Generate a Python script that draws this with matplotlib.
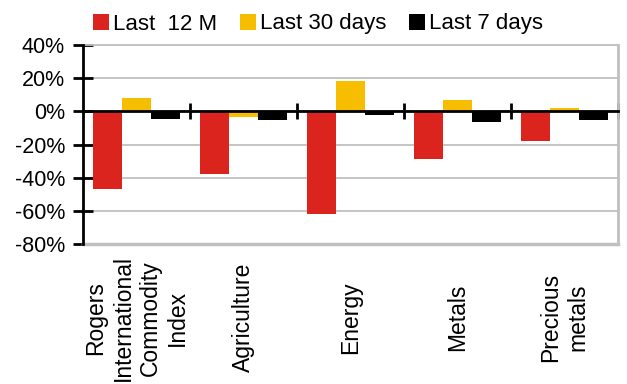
import numpy as np
import matplotlib
matplotlib.use("Agg")
import matplotlib.pyplot as plt
from matplotlib.ticker import FixedLocator, FuncFormatter

plt.rcParams['font.family'] = ['Liberation Sans', 'DejaVu Sans']

# data (% change)
categories = ["Rogers\nInternational\nCommodity\nIndex", "Agriculture",
              "Energy", "Metals", "Precious\nmetals"]
series_names = ["Last  12 M", "Last 30 days", "Last 7 days"]
last_12m = [-47, -38, -62, -29, -18]
last_30d = [8, -3.5, 18, 6.7, 2.3]
last_7d = [-4.5, -5, -2, -6.5, -5]
y_ticks = [-80, -60, -40, -20, 0, 20, 40]

colors = ["#dc241f", "#f7be00", "#000000"]
grid_col = "#c0c0c0"

fig = plt.figure(figsize=(6.27, 3.84), dpi=100)
ax = fig.add_axes([83 / 627, 1 - 244 / 384, (618 - 83) / 627, (244 - 45) / 384])

x = np.arange(len(categories))
w = 0.268
for k, (vals, name) in enumerate(zip([last_12m, last_30d, last_7d], series_names)):
    ax.bar(x + (k - 1) * w, vals, width=w, color=colors[k], label=name, zorder=2)

ax.set_xlim(-0.5, len(categories) - 0.5)
ax.set_ylim(-80, 40)

# y axis
ax.yaxis.set_major_locator(FixedLocator(y_ticks))
ax.yaxis.set_major_formatter(FuncFormatter(lambda v, p: f"{int(v)}%"))
ax.tick_params(axis='y', direction='inout', length=14, width=2, color='black',
               labelsize=15.5, pad=6)
ax.grid(axis='y', color=grid_col, lw=1.3, zorder=0)
ax.set_axisbelow(True)

# zero line as bottom spine, category separators as ticks
ax.spines['bottom'].set_position(('data', 0))
ax.spines['bottom'].set_color('black')
ax.spines['bottom'].set_linewidth(2)
ax.spines['bottom'].set_zorder(3)
ax.xaxis.set_major_locator(FixedLocator(list(x[1:] - 0.5) + [x[-1] + 0.5]))
ax.tick_params(axis='x', direction='inout', length=12, width=2, color='black',
               labelbottom=False)

ax.spines['left'].set_linewidth(2)
ax.spines['left'].set_color('black')
ax.spines['left'].set_zorder(3)
ax.spines['top'].set_color(grid_col)
ax.spines['top'].set_linewidth(1.3)
ax.spines['right'].set_color(grid_col)
ax.spines['right'].set_linewidth(2)
# gray frame bottom at -80%
ax.axhline(-80, color=grid_col, lw=2.5, zorder=1, clip_on=False)

# category labels, rotated and centred below the plot
for xi, lab in zip(x, categories):
    ax.text(xi, -0.37, lab, transform=ax.get_xaxis_transform(), rotation=90,
            ha='center', va='center', multialignment='center',
            fontsize=16.5, linespacing=1.22)

fig.legend(loc='center', bbox_to_anchor=(318 / 627, 1 - 24 / 384), ncol=3,
           frameon=False, fontsize=16, handlelength=0.72, handleheight=0.72,
           handletextpad=0.2, columnspacing=1.0, borderpad=0)

fig.savefig("out.png", dpi=100)
